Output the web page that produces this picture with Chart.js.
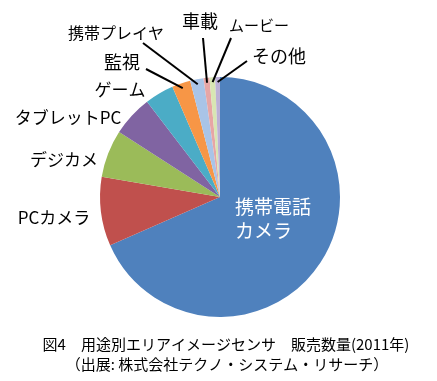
<!DOCTYPE html>
<html>
<head>
<meta charset="utf-8">
<script src="https://cdn.jsdelivr.net/npm/chart.js@4/dist/chart.umd.min.js"></script>
<style>
  html, body { margin: 0; padding: 0; background: #ffffff; }
  #wrap { width: 437px; height: 381px; position: relative; }
</style>
</head>
<body>
<div id="wrap"><canvas id="c" width="437" height="381"></canvas></div>
<script>
// ---- data (shares, %) ----
const categories = ['携帯電話カメラ', 'PCカメラ', 'デジカメ', 'タブレットPC', 'ゲーム', '監視', '携帯プレイヤ', '車載', 'ムービー', 'その他'];
const shares = [68.4, 9.3, 6.4, 5.5, 3.9, 2.5, 1.8, 0.8, 0.75, 0.65];
const titleLines = ['図4　用途別エリアイメージセンサ　販売数量(2011年)', '（出展: 株式会社テクノ・システム・リサーチ）'];

// ---- styles / layout ----
const colors = ['#4F81BD', '#C0504D', '#9BBB59', '#8064A2', '#4BACC6', '#F79646', '#A9C4E7', '#E7A6A5', '#D8E6B3', '#BCB1D6'];
const FONT = '"Noto Sans CJK JP", "Noto Sans", sans-serif';
// label layout: [lines, x, y, align, color, size, leaderFrom(x,y) or null]
const labelLayout = [
  { lines: ['携帯電話', 'カメラ'], x: 235, y: 207, align: 'left', color: '#ffffff', size: 19, lh: 24, leader: null },
  { lines: ['PCカメラ'], x: 54, y: 218, align: 'center', color: '#000', size: 17, leader: null },
  { lines: ['デジカメ'], x: 64, y: 160, align: 'center', color: '#000', size: 17, leader: null },
  { lines: ['タブレットPC'], x: 68, y: 118, align: 'center', color: '#000', size: 17, leader: null },
  { lines: ['ゲーム'], x: 120, y: 90, align: 'center', color: '#000', size: 17, leader: null },
  { lines: ['監視'], x: 122, y: 62, align: 'center', color: '#000', size: 18, leader: [146, 69] },
  { lines: ['携帯プレイヤ'], x: 116, y: 33, align: 'center', color: '#000', size: 16, leader: [143, 43] },
  { lines: ['車載'], x: 200, y: 21, align: 'center', color: '#000', size: 18, leader: [203, 38] },
  { lines: ['ムービー'], x: 259, y: 25, align: 'center', color: '#000', size: 15, leader: [231, 38] },
  { lines: ['その他'], x: 279, y: 56, align: 'center', color: '#000', size: 18, leader: [247, 61] }
];

const labelPlugin = {
  id: 'pieLabels',
  afterDatasetsDraw(chart) {
    const ctx = chart.ctx;
    const meta = chart.getDatasetMeta(0);
    ctx.save();
    meta.data.forEach((arc, i) => {
      const L = labelLayout[i];
      if (!L) return;
      if (L.leader) {
        const p = arc.getProps(['x', 'y', 'startAngle', 'endAngle', 'outerRadius'], true);
        const mid = (p.startAngle + p.endAngle) / 2;
        const r = p.outerRadius - 5;
        const ex = p.x + Math.cos(mid) * r;
        const ey = p.y + Math.sin(mid) * r;
        ctx.beginPath();
        ctx.moveTo(L.leader[0], L.leader[1]);
        ctx.lineTo(ex, ey);
        ctx.lineWidth = 2;
        ctx.strokeStyle = '#000000';
        ctx.stroke();
      }
      ctx.fillStyle = L.color;
      ctx.font = L.size + 'px ' + FONT;
      ctx.textAlign = L.align;
      ctx.textBaseline = 'middle';
      L.lines.forEach((t, k) => ctx.fillText(t, L.x, L.y + k * (L.lh || 0)));
    });
    // caption
    ctx.fillStyle = '#000000';
    ctx.font = '15px ' + FONT;
    ctx.textAlign = 'center';
    ctx.textBaseline = 'middle';
    ctx.fillText(titleLines[0], 226, 344);
    ctx.fillText(titleLines[1], 227, 364);
    ctx.restore();
  }
};

new Chart(document.getElementById('c'), {
  type: 'pie',
  data: {
    labels: categories,
    datasets: [{
      data: shares,
      backgroundColor: colors,
      borderWidth: 0
    }]
  },
  options: {
    responsive: false,
    animation: false,
    layout: { padding: { left: 100, right: 97, top: 77, bottom: 64 } },
    plugins: {
      legend: { display: false },
      tooltip: { enabled: false },
      title: { display: false }
    }
  },
  plugins: [labelPlugin]
});
</script>
</body>
</html>
